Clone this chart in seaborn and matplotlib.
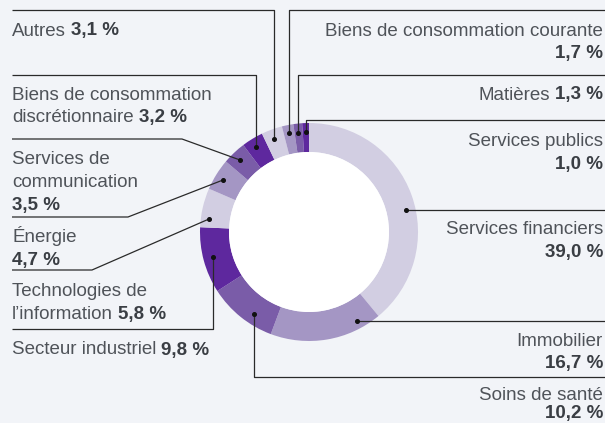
import matplotlib
matplotlib.use("Agg")
import matplotlib.pyplot as plt
import seaborn as sns
from matplotlib.patches import Circle

# ---------------- data ----------------
sectors = ["Services financiers", "Immobilier", "Soins de santé", "Secteur industriel",
           "Technologies de l’information", "Énergie", "Services de communication",
           "Biens de consommation discrétionnaire", "Autres",
           "Biens de consommation courante", "Matières", "Services publics"]
weights = [39.0, 16.7, 10.2, 9.8, 5.8, 4.7, 3.5, 3.2, 3.1, 1.7, 1.3, 1.0]

# label text split into lines: (normal part, show value on this line?)
label_lines = {
    "Services financiers": [("Services financiers", False), ("", True)],
    "Immobilier": [("Immobilier", False), ("", True)],
    "Soins de santé": [("Soins de santé", False), ("", True)],
    "Secteur industriel": [("Secteur industriel", True)],
    "Technologies de l’information": [("Technologies de", False), ("l’information", True)],
    "Énergie": [("Énergie", False), ("", True)],
    "Services de communication": [("Services de", False), ("communication", False), ("", True)],
    "Biens de consommation discrétionnaire": [("Biens de consommation", False), ("discrétionnaire", True)],
    "Autres": [("Autres", True)],
    "Biens de consommation courante": [("Biens de consommation courante", False), ("", True)],
    "Matières": [("Matières", True)],
    "Services publics": [("Services publics", False), ("", True)],
}

# ---------------- layout (pixels, y downward) ----------------
W, H = 605, 423
CX, CY, R_OUT, R_IN = 309, 232, 109, 80
LEFT_X, RIGHT_X = 12, 603
# side, first-line text centre y, line spacing, callout path (starts at dot)
layout = {
    "Services financiers": ("right", 228, 22.3, [(406, 210), (605, 210)]),
    "Immobilier": ("right", 339, 22.3, [(357, 321), (605, 321)]),
    "Soins de santé": ("right", 393, 18.5, [(254, 314), (254, 377), (605, 377)]),
    "Secteur industriel": ("left", 348, 22.3, [(213, 257), (213, 329), (12, 329)]),
    "Technologies de l’information": ("left", 290, 22.3, [(209, 219), (92, 270), (12, 270)]),
    "Énergie": ("left", 236, 22.3, [(223, 180), (128, 217), (12, 217)]),
    "Services de communication": ("left", 158, 22.6, [(240, 160), (182, 139), (12, 139)]),
    "Biens de consommation discrétionnaire": ("left", 93, 22.3, [(256, 147), (256, 75), (12, 75)]),
    "Autres": ("left", 29, 22.3, [(274, 139), (274, 10), (12, 10)]),
    "Biens de consommation courante": ("right", 29, 22.3, [(289, 133), (289, 10), (605, 10)]),
    "Matières": ("right", 93, 22.3, [(298, 133), (298, 75), (605, 75)]),
    "Services publics": ("right", 140, 22.3, [(306, 132), (306, 120), (605, 120)]),
}

BG = "#f2f4f8"
shades = ["#d2cee2", "#a496c4", "#7a5ca8", "#5e289e"]
TXT = "#4f5359"
TXT_B = "#3a3e44"
FS = 13.5

sns.set_style("white", {"axes.facecolor": BG, "figure.facecolor": BG})
plt.rcParams["font.family"] = ["Liberation Sans", "DejaVu Sans"]

palette = sns.color_palette(shades * 3, n_colors=len(weights))

fig = plt.figure(figsize=(W / 100, H / 100), dpi=100)
fig.patch.set_facecolor(BG)
ax = fig.add_axes([0, 0, 1, 1])
ax.pie(weights, colors=palette, startangle=-90, counterclock=True,
       center=(CX, CY), radius=R_OUT,
       wedgeprops=dict(width=R_OUT - R_IN, linewidth=0, edgecolor="none"))
ax.add_patch(Circle((CX, CY), R_IN, facecolor="white", edgecolor="none", zorder=3))
ax.set_xlim(0, W)
ax.set_ylim(H, 0)
ax.set_aspect("equal")
ax.axis("off")

# callout lines and dots
for name in sectors:
    side, y0, lh, path = layout[name]
    xs = [p[0] for p in path]
    ys = [p[1] for p in path]
    ax.plot(xs, ys, color="#2a2a2a", lw=0.9, zorder=4, solid_capstyle="butt")
    ax.plot([xs[0]], [ys[0]], "o", color="#111111", ms=2.6, zorder=5)

fig.canvas.draw()
renderer = fig.canvas.get_renderer()
GAP = 5.0


def fmt(v):
    return f"{v:.1f}".replace(".", ",") + "\u00a0%"


for name, w in zip(sectors, weights):
    side, y0, lh, path = layout[name]
    val = fmt(w)
    for i, (normal, with_val) in enumerate(label_lines[name]):
        yb = y0 + i * lh + 6.5
        if side == "left":
            x = LEFT_X
            if normal:
                t = ax.text(x, yb, normal, ha="left", va="baseline", fontsize=FS, color=TXT)
                bb = t.get_window_extent(renderer)
                x = bb.x1 + GAP
            if with_val:
                ax.text(x, yb, val, ha="left", va="baseline", fontsize=FS,
                        color=TXT_B, fontweight="bold")
        else:
            x = RIGHT_X
            if with_val:
                t = ax.text(x, yb, val, ha="right", va="baseline", fontsize=FS,
                            color=TXT_B, fontweight="bold")
                bb = t.get_window_extent(renderer)
                x = bb.x0 - GAP
            if normal:
                ax.text(x, yb, normal, ha="right", va="baseline", fontsize=FS, color=TXT)

fig.savefig("out.png", dpi=100, facecolor=BG)
